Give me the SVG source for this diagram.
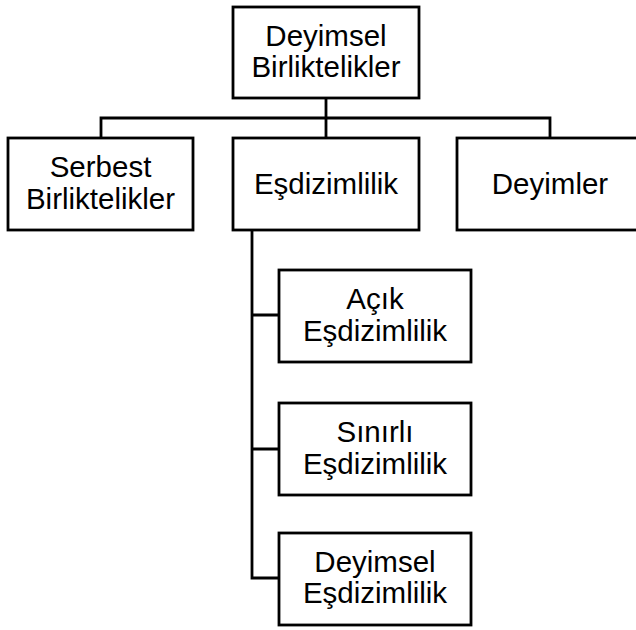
<svg xmlns="http://www.w3.org/2000/svg" width="636" height="630" viewBox="0 0 636 630">
<style>
.box{fill:#fff;stroke:#000;stroke-width:2.8}
.t{font-family:"Liberation Sans",Arial,sans-serif;font-size:29.5px;fill:#000;text-anchor:middle}
.c{fill:none;stroke:#000;stroke-width:2.8}
</style>
<rect width="636" height="630" fill="#fff"/>
<g id="connectors">
<path class="c" d="M326,98 V118 M101,138 V118 H550 V138 M326,118 V138"/>
<path class="c" d="M252,230 V578 H279 M252,315 H279 M252,449 H279"/>
</g>
<g id="n-root">
<rect class="box" x="233" y="7" width="186" height="91"/>
<text class="t" x="326" y="45.5">Deyimsel</text>
<text class="t" x="326" y="77">Birliktelikler</text>
</g>
<g id="n-serbest">
<rect class="box" x="8" y="138" width="185" height="92"/>
<text class="t" x="100.5" y="177">Serbest</text>
<text class="t" x="100.5" y="208.5">Birliktelikler</text>
</g>
<g id="n-esdizimlilik">
<rect class="box" x="233" y="138" width="186" height="92"/>
<text class="t" x="326" y="194">Eşdizimlilik</text>
</g>
<g id="n-deyimler">
<rect class="box" x="457" y="138" width="186" height="92"/>
<text class="t" x="550" y="194">Deyimler</text>
</g>
<g id="n-acik">
<rect class="box" x="279" y="270" width="192" height="92"/>
<text class="t" x="375" y="308.5">Açık</text>
<text class="t" x="375" y="340.5">Eşdizimlilik</text>
</g>
<g id="n-sinirli">
<rect class="box" x="279" y="403" width="192" height="92"/>
<text class="t" x="375" y="441.5">Sınırlı</text>
<text class="t" x="375" y="473.5">Eşdizimlilik</text>
</g>
<g id="n-deyimsel">
<rect class="box" x="279" y="533" width="192" height="92"/>
<text class="t" x="375" y="571.5">Deyimsel</text>
<text class="t" x="375" y="603">Eşdizimlilik</text>
</g>
</svg>
